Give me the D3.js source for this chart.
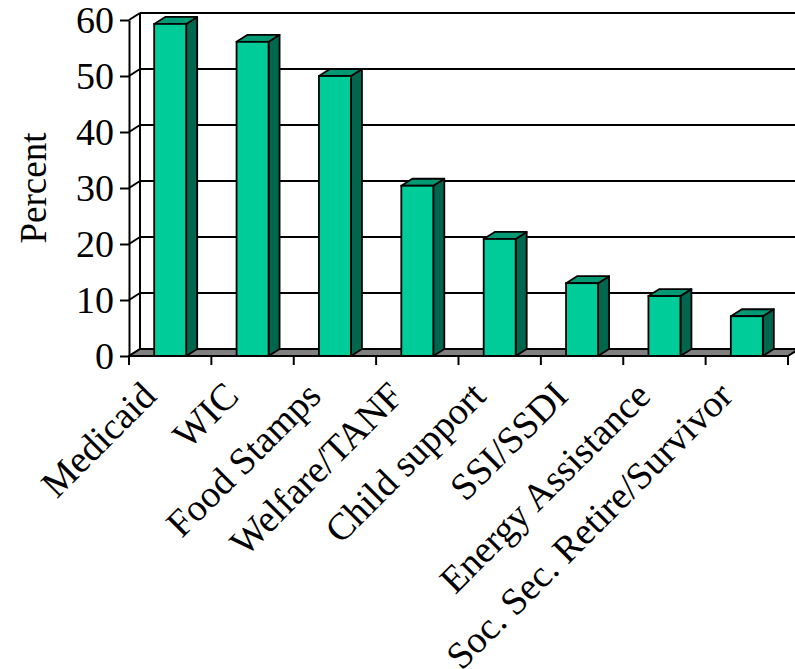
<!DOCTYPE html>
<html>
<head>
<meta charset="utf-8">
<script src="https://cdn.jsdelivr.net/npm/d3@7"></script>
<style>
  body { margin: 0; background: #fff; }
  text { font-family: "Liberation Serif", "Times New Roman", serif; fill: #000; }
</style>
</head>
<body>
<div id="chart"></div>
<script>
// ============ data ============
var categories = ["Medicaid", "WIC", "Food Stamps", "Welfare/TANF", "Child support",
  "SSI/SSDI", "Energy Assistance", "Soc. Sec. Retire/Survivor"];
var percents = [59.3, 56.1, 50, 30.4, 20.9, 13, 10.7, 7.1];
var yTicks = [0, 10, 20, 30, 40, 50, 60];

// ============ set up chart ============
var svgWidth = 795;
var svgHeight = 669;

// front plane of the plot
var plotLeft = 129, plotRight = 788, plotTop = 20, plotBottom = 356;
// 3D depth offset
var dx = 11, dy = -7;
var barWidth = 32;
var fontSize = 38;

var svg = d3.select("#chart")
  .append("svg")
  .attr("width", svgWidth)
  .attr("height", svgHeight);

var x = d3.scaleBand()
  .domain(categories)
  .range([plotLeft, plotRight])
  .padding(0);

var y = d3.scaleLinear()
  .domain([0, 60])
  .range([plotBottom, plotTop]);

// ============ back wall + gridlines ============
var wall = svg.append("g");

wall.selectAll("line.grid")
  .data(yTicks.filter(d => d > 0))
  .enter()
  .append("line")
  .attr("x1", plotLeft + dx)
  .attr("x2", svgWidth + 10)
  .attr("y1", d => y(d) + dy)
  .attr("y2", d => y(d) + dy)
  .attr("stroke", "#000")
  .attr("stroke-width", 2);

// back wall left edge
wall.append("line")
  .attr("x1", plotLeft + dx).attr("x2", plotLeft + dx)
  .attr("y1", y(60) + dy).attr("y2", y(0) + dy)
  .attr("stroke", "#000").attr("stroke-width", 2);

// connectors front axis -> back wall
wall.selectAll("line.conn")
  .data(yTicks)
  .enter()
  .append("line")
  .attr("x1", plotLeft)
  .attr("y1", d => y(d))
  .attr("x2", plotLeft + dx)
  .attr("y2", d => y(d) + dy)
  .attr("stroke", "#000")
  .attr("stroke-width", 2);

// ============ floor ============
svg.append("path")
  .attr("d", `M${plotLeft},${y(0)} L${plotRight},${y(0)} L${plotRight + dx},${y(0) + dy} L${svgWidth + 20},${y(0) + dy} L${plotLeft + dx},${y(0) + dy} Z`)
  .attr("fill", "#808080")
  .attr("stroke", "#000")
  .attr("stroke-width", 2)
  .attr("stroke-linejoin", "round");

// ============ bars ============
var bars = svg.append("g")
  .selectAll("g")
  .data(categories)
  .enter()
  .append("g");

function bx(d) { return x(d) + (x.bandwidth() - barWidth) / 2; }
function by(i) { return y(percents[i]); }

// side face
bars.append("path")
  .attr("d", (d, i) => {
    var x1 = bx(d) + barWidth;
    return `M${x1},${by(i)} L${x1 + dx},${by(i) + dy} L${x1 + dx},${y(0) + dy} L${x1},${y(0)} Z`;
  })
  .attr("fill", "#00664d")
  .attr("stroke", "#000")
  .attr("stroke-width", 1.8)
  .attr("stroke-linejoin", "round");

// top face
bars.append("path")
  .attr("d", (d, i) => {
    var x0 = bx(d), x1 = bx(d) + barWidth;
    return `M${x0},${by(i)} L${x0 + dx},${by(i) + dy} L${x1 + dx},${by(i) + dy} L${x1},${by(i)} Z`;
  })
  .attr("fill", "#009973")
  .attr("stroke", "#000")
  .attr("stroke-width", 1.8)
  .attr("stroke-linejoin", "round");

// front face
bars.append("rect")
  .attr("x", d => bx(d))
  .attr("y", (d, i) => by(i))
  .attr("width", barWidth)
  .attr("height", (d, i) => y(0) - by(i))
  .attr("fill", "#00cc99")
  .attr("stroke", "#000")
  .attr("stroke-width", 1.8);

// ============ y axis ============
var leftAxis = d3.axisLeft(y)
  .tickValues(yTicks)
  .tickSize(9)
  .tickSizeOuter(0)
  .tickPadding(6);

var yAxis = svg.append("g")
  .attr("transform", `translate(${plotLeft}, 0)`)
  .call(leftAxis);

yAxis.selectAll("line, path").attr("stroke", "#000").attr("stroke-width", 2);
yAxis.selectAll("text")
  .style("font-size", fontSize + "px")
  .style("font-family", "'Liberation Serif', 'Times New Roman', serif")
  .attr("dy", "0.34em");

// ============ x axis ============
svg.append("line")
  .attr("x1", plotLeft).attr("x2", plotRight)
  .attr("y1", y(0)).attr("y2", y(0))
  .attr("stroke", "#000").attr("stroke-width", 2);

var boundaries = categories.map(d => x(d)).concat([x.range()[1]]);
svg.selectAll("line.xtick")
  .data(boundaries)
  .enter()
  .append("line")
  .attr("x1", d => d).attr("x2", d => d)
  .attr("y1", y(0)).attr("y2", y(0) + 9)
  .attr("stroke", "#000").attr("stroke-width", 2);

svg.append("g")
  .selectAll("text")
  .data(categories)
  .enter()
  .append("text")
  .attr("transform", d => `translate(${x(d) + x.bandwidth() / 2 - 12}, ${y(0) + 42}) rotate(-45)`)
  .attr("text-anchor", "end")
  .style("font-size", fontSize + "px")
  .text(d => d);

// y axis label
svg.append("text")
  .attr("transform", `translate(46, 188) rotate(-90)`)
  .attr("text-anchor", "middle")
  .style("font-size", "37px")
  .text("Percent");
</script>
</body>
</html>
